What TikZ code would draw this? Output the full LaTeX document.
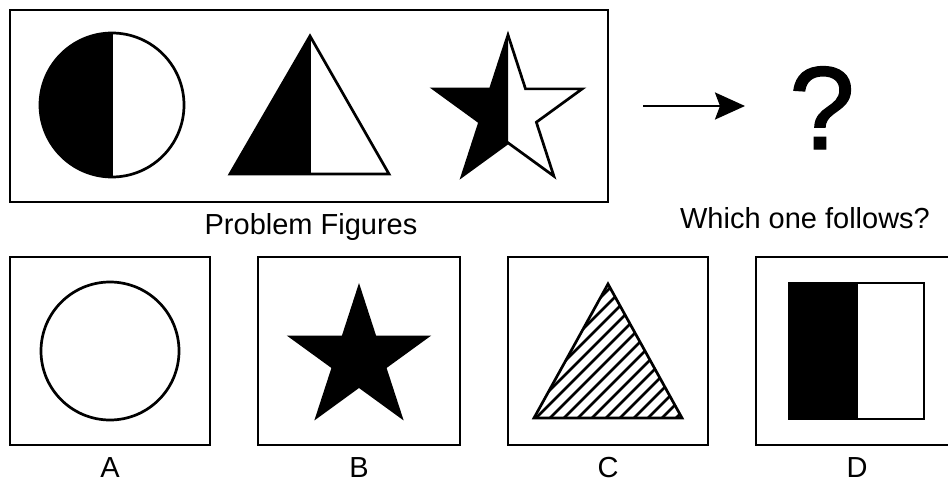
\documentclass[tikz,border=0pt]{standalone}
\usepackage{fontspec}
\setmainfont{Liberation Sans}
\newfontfamily\qfont[FakeBold=1.2]{Liberation Sans}
\usetikzlibrary{arrows.meta}
\begin{document}
\begin{tikzpicture}[x=1pt,y=-1pt,
  framebox/.style={draw=black,line width=2.8pt},
  shapeline/.style={draw=black,line width=2.7pt,line join=miter},
  lbl/.style={anchor=base,inner sep=0pt,font=\fontsize{29}{34}\selectfont},
  hatchline/.style={line width=2.6pt}]
\useasboundingbox (0,0) rectangle (948,487);
\fill[white] (0,0) rectangle (948,487);
% top frame
\draw[framebox] (10,10) rectangle (608,202);
% circle half black
\begin{scope}[shift={(112,105)},yscale=-1]
  \fill (90:72) arc[start angle=90,end angle=270,radius=72] -- cycle;
  \draw[shapeline] (0,0) circle[radius=72];
  \draw[shapeline] (90:72) -- (270:72);
\end{scope}
% triangle half black
\fill (310,36) -- (230,174) -- (310,174) -- cycle;
\draw[shapeline] (310,36) -- (230,174) -- (389,174) -- cycle;
\draw[shapeline] (310,36) -- (310,174);
% star half black
\begin{scope}[shift={(508,113)},yscale=-1]
  \def\R{78}\def\r{29.8}
  \begin{scope}
    \clip (-100,-100) rectangle (0,100);
    \fill (90:\R) -- (126:\r) -- (162:\R) -- (198:\r) -- (234:\R) -- (270:\r) -- (306:\R) -- (342:\r) -- (18:\R) -- (54:\r) -- cycle;
  \end{scope}
  \draw[shapeline] (90:\R) -- (126:\r) -- (162:\R) -- (198:\r) -- (234:\R) -- (270:\r) -- (306:\R) -- (342:\r) -- (18:\R) -- (54:\r) -- cycle;
\end{scope}
% arrow and question mark
\coordinate (arrS) at (643,106);
\coordinate (arrE) at (745,106);
\draw[line width=2.6pt,-{Stealth[length=30pt,width=27pt,inset=5pt]}] (arrS) -- (arrE);
\node[anchor=base,inner sep=0pt,font=\qfont\fontsize{118}{130}\selectfont] (qm) at (822,149) {?};
% captions
\node[lbl] (pf) at (311,234) {Problem Figures};
\node[lbl] (wf) at (805,228) {Which one follows?};
% option boxes
\draw[framebox] (10,257) rectangle (210,445);
\draw[framebox] (258,257) rectangle (460,445);
\draw[framebox] (508,257) rectangle (708,445);
\draw[framebox] (756,257) rectangle (960,445);
% A circle
\draw[shapeline] (110,351) circle[radius=69];
% B star
\begin{scope}[shift={(359,359)},yscale=-1]
  \def\R{76}\def\r{29}
  \fill (90:\R) -- (126:\r) -- (162:\R) -- (198:\r) -- (234:\R) -- (270:\r) -- (306:\R) -- (342:\r) -- (18:\R) -- (54:\r) -- cycle;
\end{scope}
% C hatched triangle
\begin{scope}
  \clip (608,284) -- (534,418) -- (682,418) -- cycle;
  \foreach \c in {898,912,...,1110} {
    \draw[hatchline] ({\c-250},250) -- ({\c-450},450);
  }
\end{scope}
\draw[shapeline] (608,284) -- (534,418) -- (682,418) -- cycle;
% D half black square
\fill (789,283) rectangle (858,419);
\draw[shapeline] (789,283) rectangle (924,419);
% labels
\node[lbl] (la) at (110,477) {A};
\node[lbl] (lb) at (359,477) {B};
\node[lbl] (lc) at (608,477) {C};
\node[lbl] (ld) at (857,477) {D};
\end{tikzpicture}
\end{document}
